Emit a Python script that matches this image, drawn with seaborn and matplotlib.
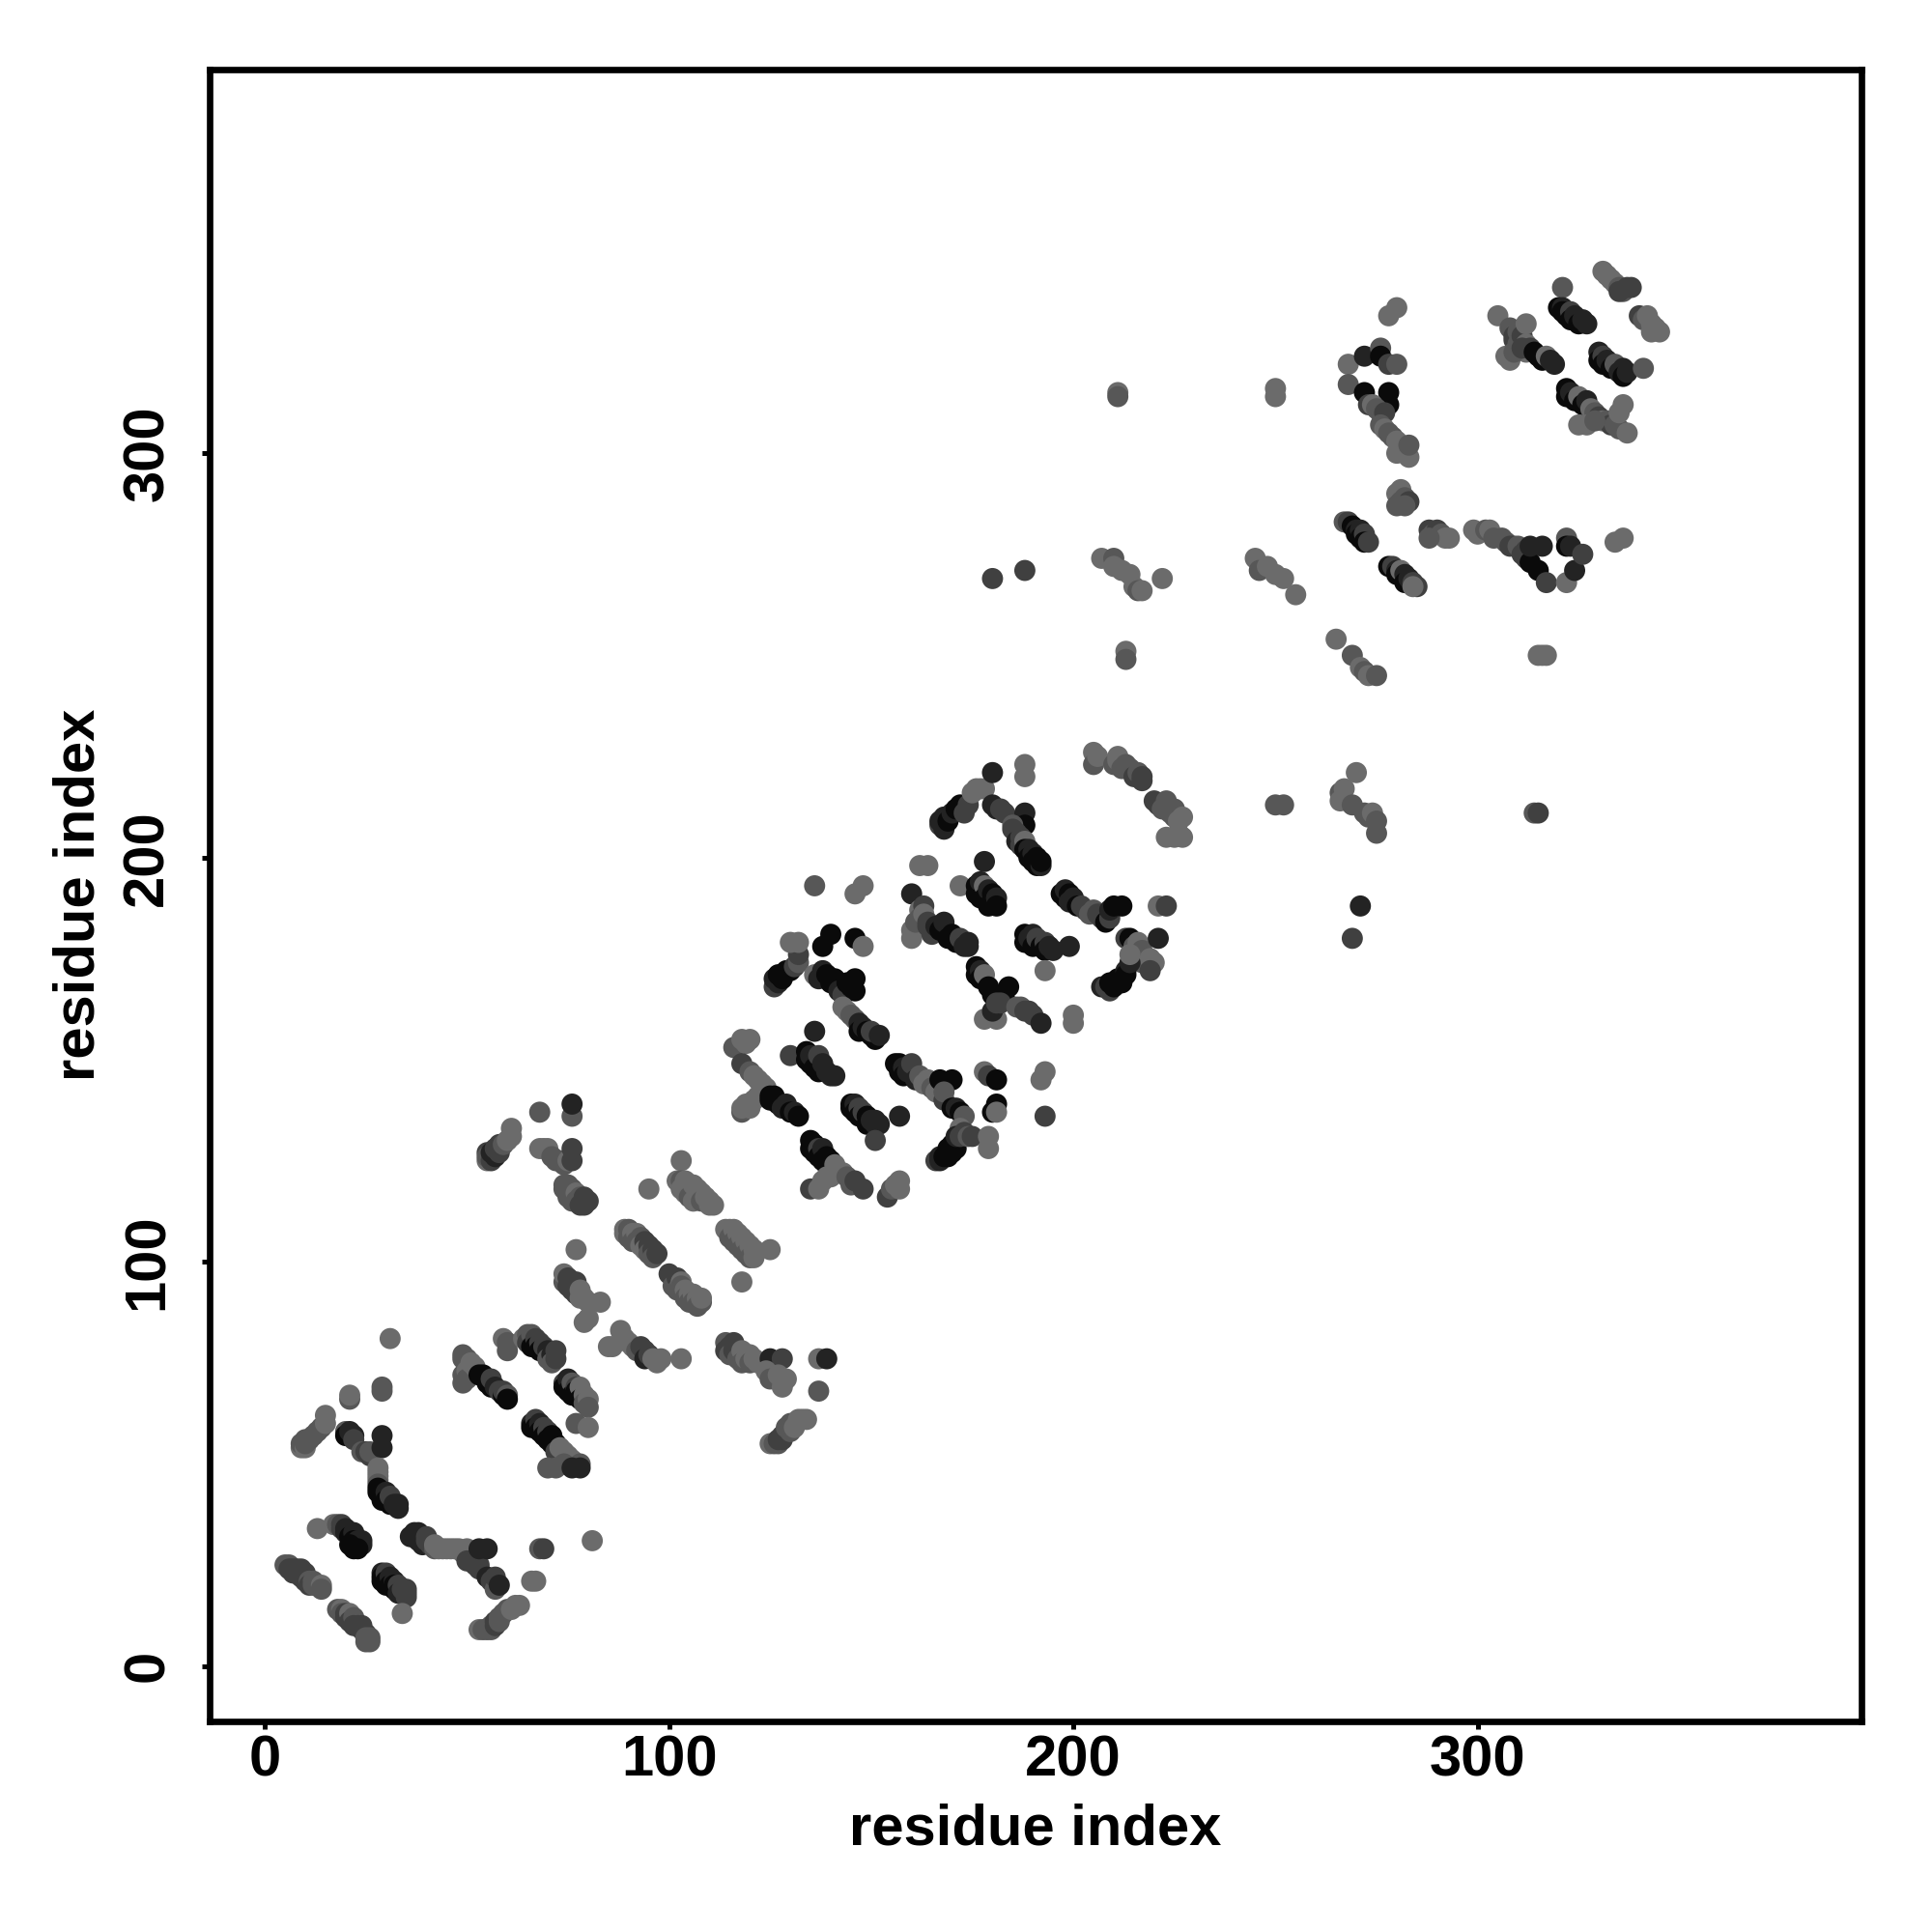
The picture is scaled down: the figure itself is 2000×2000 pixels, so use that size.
# -*- coding: utf-8 -*-
import matplotlib
matplotlib.use('Agg')
import matplotlib.pyplot as plt
import pandas as pd
import seaborn as sns

# shades of grey, dark to light
K, D, M, G, L = 0.04, 0.14, 0.25, 0.34, 0.42

TICKS = [0, 100, 200, 300]

# (residue i, residue j, shade), one cluster at a time
low_left = [(5,25,G),(6,25,G),(6,24,M),(7,24,M),(7,23,M),(8,24,M),(9,24,M),(9,22,M),(10,23,M),(10,21,M),(11,21,G),(11,20,M),(12,21,G),(12,20,G),(13,20,G),(14,20,L),(14,19,G),
            (18,14,G),(19,14,L),(19,13,G),(20,13,M),(20,12,M),(21,13,L),(21,11,M),(22,12,G),(22,10,M),(23,10,M),(24,9,M),(24,10,M),(25,8,M),(25,7,G),(26,6,G),(26,7,G),(25,6,G),
            (13,34,L),(17,35,L),(18,35,G),(19,34,M),(19,35,M),(20,34,D),(20,33,D),(21,33,D),(21,32,K),(22,33,D),(22,31,K),(23,31,D),(23,30,K),(24,31,D),(24,30,D),(21,30,K),(22,29,K),(23,29,K),
            (29,23,D),(29,22,K),(29,21,K),(30,23,M),(30,21,K),(30,20,K),(31,22,D),(31,20,K),(32,21,D),(32,20,K),(32,19,K),(33,20,M),(33,18,D),(34,19,M),(35,19,M),(35,18,M),(35,17,M),(34,13,L)]
left_arc = [(9,54,L),(9,55,G),(10,54,L),(10,55,G),(10,56,G),(11,56,G),(12,57,G),(13,58,G),(14,59,G),(15,60,L),(15,62,L),(21,66,G),(21,67,L),(29,68,G),(29,69,G),(31,81,L),
            (20,58,G),(20,57,K),(21,58,D),(22,57,D),(22,56,M),(24,53,G),(25,53,M),(26,52,M),(26,53,G),(29,57,D),(29,54,D),(28,49,L),(28,48,L),(28,47,L),(28,46,L),(28,45,G),(28,44,K),(28,43,K),(29,42,K),(29,41,K),(30,43,D),(30,41,K),(31,40,K),(31,42,M),(32,40,D),(33,39,D),(33,40,D)]
low_band = [(36,32,D),(37,33,D),(38,33,D),(38,31,D),(39,32,D),(39,30,D),(40,32,M),(40,31,M),(41,30,M),(42,29,G),(42,30,L),(43,29,L),(44,29,L),(45,29,L),(46,29,L),(47,29,L),(48,29,L),(49,28,L),(50,29,L),
            (50,26,M),(51,26,M),(52,25,M),(53,25,M),(53,24,M),(53,29,D),(55,29,D),(55,22,D),(56,21,M),(57,19,G),(57,22,M),(58,20,D),(68,29,G),(69,29,M),(66,21,L),(67,21,L),(81,31,L),
            (53,9,L),(54,9,G),(55,9,G),(56,9,G),(56,10,G),(57,10,M),(57,11,M),(58,11,G),(58,12,G),(59,13,G),(60,14,G),(61,14,L),(62,15,L),(63,15,L)]
band_50_75 = [(49,77,G),(49,76,G),(49,72,G),(49,70,G),(50,76,G),(50,73,L),(50,71,G),(51,75,L),(52,74,L),(53,72,K),(54,72,K),(55,71,K),(55,70,K),(56,69,K),(56,71,M),(57,69,D),(58,68,M),(59,67,K),(59,68,M),(60,67,G),(60,66,K),(59,81,L),(60,80,G),(60,78,G),
              (64,81,L),(65,82,G),(65,80,M),(66,82,G),(66,79,K),(67,81,M),(67,79,K),(68,80,M),(68,78,K),(69,79,M),(70,78,D),(70,76,G),(71,77,D),(71,75,G),(72,76,M),(72,78,M),
              (66,60,D),(66,59,K),(67,61,M),(67,59,K),(68,60,D),(68,58,K),(69,59,M),(69,57,K),(70,58,M),(70,56,K),(71,57,K),(71,55,K),(72,55,K),(72,53,M),(73,54,L),(74,53,L),(75,52,L),(76,51,L),(77,50,L),(78,50,G),(70,49,G),(72,49,G),(74,50,G),(76,49,D),(78,49,D),
              (74,70,M),(74,69,K),(75,71,D),(75,68,K),(76,70,G),(76,67,K),(77,69,M),(77,68,K),(78,69,L),(78,66,K),(79,67,L),(79,65,G),(80,66,L),(80,64,G),(77,60,G),(80,59,L)]
band_75_110 = [(74,95,G),(74,97,L),(75,94,M),(75,96,M),(76,93,M),(76,94,M),(77,95,M),(77,92,M),(78,93,L),(78,91,L),(79,91,L),(80,90,L),(83,90,L),(77,103,L),(79,85,L),(80,86,L),
               (55,125,L),(55,127,M),(55,126,G),(56,125,M),(56,127,D),(57,126,D),(57,128,M),(58,127,M),(58,129,M),(59,129,G),(60,130,L),(61,131,L),(61,133,L),(68,137,G),(76,136,G),(76,139,D),
               (68,128,L),(69,128,L),(70,128,L),(71,126,G),(72,125,G),(73,125,G),(74,124,G),(75,125,L),(76,128,M),(76,125,M),
               (74,119,G),(74,118,G),(75,119,G),(75,116,G),(76,118,G),(76,115,G),(77,117,L),(77,115,G),(78,116,G),(78,114,M),(79,116,M),(79,114,M),(80,115,M),
               (85,79,L),(86,79,L),(88,83,L),(89,81,L),(90,80,L),(91,79,L),(92,78,G),(93,79,M),(94,78,M),(94,76,D),(95,77,M),(96,76,L),(97,75,L),(98,76,L),(103,76,L),
               (89,108,L),(89,107,L),(90,108,G),(90,106,G),(91,107,L),(91,105,G),(92,107,L),(92,105,G),(93,106,G),(93,104,L),(94,105,M),(94,103,L),(95,104,M),(95,102,G),(96,103,M),(96,101,G),(97,102,M),(95,118,L),
               (100,97,M),(101,96,M),(101,94,G),(102,96,M),(102,93,G),(103,95,L),(103,94,G),(104,93,L),(104,91,G),(105,92,L),(105,90,G),(106,92,L),(106,90,G),(107,91,L),(107,89,G),(108,90,G),(108,91,L),(103,125,L),
               (102,120,L),(103,120,G),(103,118,L),(104,120,L),(104,117,L),(105,119,L),(105,116,G),(106,119,L),(106,115,L),(107,118,L),(107,116,L),(108,117,L),(108,115,G),(109,116,L),(110,115,L),(110,114,L),(111,114,L),
               (114,108,L),(115,108,L),(115,106,G),(116,108,L),(116,105,G),(117,107,L),(117,104,G),(118,106,L),(118,103,G),(119,105,L),(119,102,G),(120,104,L),(120,101,G),(121,103,L),(121,101,L),(125,103,L),(118,95,L)]
band_right_low = [(114,80,G),(114,78,M),(115,79,M),(115,77,G),(116,80,M),(116,78,M),(117,76,G),(118,78,L),(118,75,G),(119,76,L),(120,77,L),(120,75,G),(121,76,L),(122,75,L),(125,76,D),(128,76,M),
                  (124,73,L),(125,71,G),(127,72,L),(128,69,L),(129,71,L),(137,68,G),(137,76,L),(139,76,D),
                  (125,55,L),(126,55,G),(127,55,G),(127,56,M),(128,56,M),(128,57,M),(129,58,M),(129,59,G),(130,58,G),(130,60,G),(131,59,L),(132,61,L),(133,61,L),(134,61,L)]
middle = [(116,153,G),(118,155,L),(119,154,L),(120,155,L),(118,149,M),(120,147,G),(121,146,L),(122,145,L),(123,144,L),(124,143,L),(118,137,G),(118,138,L),(119,139,L),(120,138,L),(121,140,L),(122,141,L),(125,141,K),(125,140,K),(126,141,K),(127,139,K),(128,138,D),(129,139,D),(130,137,K),(131,137,D),(132,136,K),(130,151,M),
          (136,157,D),(134,150,K),(134,152,K),(135,149,K),(135,151,D),(136,150,D),(136,148,K),(137,151,M),(137,147,K),(138,149,D),(139,147,D),(140,146,D),(141,146,D),
          (145,139,K),(145,138,K),(146,139,D),(146,137,K),(147,138,M),(147,136,K),(148,137,M),(149,136,K),(149,134,K),(150,135,D),(151,134,D),(151,135,D),(152,134,D),(157,136,D),(151,130,M),
          (135,130,K),(135,128,K),(136,129,K),(136,127,K),(137,128,M),(137,126,K),(138,128,D),(138,125,K),(139,126,K),(139,124,K),(140,125,K),(135,118,M),(137,118,L),(138,120,L),(139,121,L),(140,121,L),(141,124,L),(142,122,L),(143,122,L),(144,121,G),(145,119,G),(146,120,M),(148,118,M),
          (154,116,M),(155,118,G),(156,119,L),(157,120,L),(157,118,L),
          (156,149,K),(157,149,K),(157,147,K),(158,148,D),(158,146,K),(159,147,D),(160,149,M),(161,145,D),(162,146,G),(163,144,L),(164,145,L),(165,143,G),(166,142,L),(167,145,K),(170,145,K),
          (168,140,M),(168,142,G),(170,138,K),(171,138,D),(172,137,K),(173,136,G),(172,133,L),
          (166,125,M),(167,125,D),(167,126,D),(168,126,K),(169,126,K),(169,128,K),(170,127,K),(170,129,K),(171,128,K),(171,131,D),(172,131,M),(173,132,M),(174,131,G),(175,131,M),(179,131,L),(179,128,L),
          (178,147,L),(179,146,M),(181,145,K),(180,137,K),(181,139,K),(181,137,L),(193,147,L),(192,145,L),(193,136,M)]
upper_mid = [(126,168,M),(126,170,D),(127,169,D),(127,171,K),(128,170,K),(129,172,K),(130,172,K),(131,173,M),(132,174,G),(132,176,M),(130,179,L),(132,179,L),(136,193,G),(136,171,L),(137,170,D),(138,172,D),(139,171,K),(140,169,K),(141,170,K),(142,167,D),(143,166,M),(144,169,K),(145,168,K),
             (140,181,K),(138,178,K),(146,191,L),(148,193,L),(146,180,K),(148,178,L),(146,170,K),(146,167,K),
             (143,163,L),(144,162,L),(145,161,G),(146,160,G),(147,159,D),(147,157,K),(148,158,D),(149,157,K),(150,156,K),(151,155,K),(150,157,M),(152,156,D),
             (162,198,L),(164,198,L),(160,191,D),(160,180,L),(160,182,L),(161,184,G),(162,187,L),(162,185,G),(163,188,M),(163,186,L),(164,183,M),(164,184,M),(165,181,M),(166,183,D),(167,182,K),(168,184,D),(169,180,K),(170,181,K),(171,179,K),(172,180,M),(173,178,D),(174,179,D),(174,178,D),(172,193,L),
             (176,193,K),(176,191,K),(177,194,D),(177,190,K),(178,193,L),(178,190,K),(179,192,D),(179,188,K),(180,191,K),(181,190,D),(181,188,K),(178,199,D),
             (176,173,K),(176,171,K),(177,172,D),(177,170,K),(178,171,L),(179,168,K),(180,166,K),(184,168,K),(183,165,K),(178,160,L),(181,160,L),(180,162,D),(181,164,M),(182,164,M),(186,163,G),(187,163,G),(188,162,M),(189,162,M),(190,161,M),(192,159,D),(200,161,L),(200,159,L),
             (188,181,K),(188,179,K),(189,180,D),(190,181,D),(190,178,K),(191,180,M),(192,178,K),(193,179,M),(193,177,K),(194,178,D),(195,177,D),(199,178,D),(193,172,L)]
arc_200 = [(167,208,M),(167,209,D),(168,210,D),(168,207,D),(169,209,K),(170,211,D),(171,212,K),(172,213,K),(173,211,M),(174,213,M),(175,216,L),(176,217,L),(177,217,L),(178,217,L),(180,221,D),(180,213,D),(181,212,D),(182,212,M),(183,211,M),(188,223,L),(188,220,L),(188,211,D),(188,208,K),
           (185,208,G),(185,207,M),(186,206,M),(186,204,D),(187,205,M),(187,203,M),(188,204,L),(188,202,K),(189,202,D),(189,200,K),(190,201,D),(190,199,K),(191,200,K),(191,198,K),(192,198,D),(192,199,K),
           (197,191,K),(198,190,K),(198,192,D),(199,191,K),(199,189,D),(200,190,D),(201,188,K),(202,188,M),(203,187,M),(204,186,G),(205,187,G),(206,186,M),(207,185,M),(208,184,K),(209,185,M),(209,187,D),(210,188,K),(212,188,K),
           (213,180,M),(214,180,K),(215,178,G),(216,179,L),(217,177,G),(217,174,G),(219,175,L),(220,174,L),(219,172,M),(221,188,L),(223,188,M),(221,180,D),
           (207,168,D),(208,168,M),(209,167,M),(209,169,K),(210,168,K),(211,170,K),(212,169,K),(213,172,D),(213,171,K),(214,174,D),(214,176,L),
           (205,226,L),(205,223,G),(206,225,L),(210,223,G),(211,224,L),(211,225,L),(212,222,G),(213,223,G),(214,222,G),(215,220,M),(216,221,G),(217,220,M),(217,219,M),
           (220,214,M),(221,213,M),(222,212,G),(223,214,G),(224,211,G),(225,210,G),(225,212,G),(226,209,L),(227,210,L),(223,205,L),(225,205,L),(227,205,L),(226,206,L)]
sparse = [(211,315,L),(211,314,G),(250,316,L),(250,314,L),(180,269,M),(188,271,M),(207,274,L),(210,274,G),(210,272,L),(212,271,L),(214,270,L),(215,267,L),(216,266,G),(217,266,L),(222,269,L),(213,251,L),(213,249,G),
          (245,274,L),(246,271,G),(248,272,L),(250,270,L),(252,269,L),(255,265,L),(250,213,G),(252,213,G),(265,254,L),(269,250,G),(271,247,L),(272,246,G),(273,245,L),(275,245,G),
          (266,216,G),(266,214,L),(267,217,L),(269,213,G),(270,221,L),(272,211,G),(273,210,G),(274,211,L),(275,209,G),(275,206,G),(271,188,D),(269,180,M),(314,211,G),(315,211,M),(315,250,L),(316,250,L),(317,250,L)]
upper_left = [(268,322,L),(272,324,D),(276,326,G),(276,324,K),(278,322,M),(280,322,G),(278,334,L),(280,336,L),(268,317,G),(272,315,K),(278,315,K),(278,312,K),(273,312,M),(274,312,L),(275,311,G),(276,310,G),(277,310,M),
              (276,307,G),(277,306,L),(278,305,G),(279,304,G),(280,303,L),(281,302,L),(282,301,L),(282,300,L),(283,299,L),(280,300,L),(283,302,G),
              (280,290,L),(281,291,L),(281,288,G),(282,289,G),(283,288,M),(282,287,G),(280,287,G),
              (267,283,G),(268,283,M),(269,282,K),(270,281,D),(270,280,K),(271,281,D),(271,279,K),(272,280,M),(272,278,K),(273,278,M),
              (288,281,M),(289,280,G),(290,281,M),(291,280,G),(292,279,L),(293,279,L),(288,279,G),
              (278,272,K),(279,272,M),(280,271,D),(280,270,K),(281,271,L),(282,270,D),(282,268,K),(283,269,D),(284,268,M),(285,267,M),(284,267,L)]
upper_band = [(299,281,L),(300,280,L),(302,281,G),(303,281,L),(304,279,G),(306,279,G),(307,278,G),(308,277,M),(309,277,M),(310,277,G),(311,275,M),(312,276,M),(312,274,M),(313,273,K),(313,277,D),(316,277,D),(315,271,K),(317,268,M),(322,268,L),(322,279,G),(322,277,K),(323,277,D),(324,271,D),(326,275,M),(334,278,L),(336,279,L),
              (305,334,L),(308,331,G),(309,329,M),(309,328,M),(310,330,G),(310,327,G),(311,329,M),(312,327,L),(312,325,L),(312,332,L),(307,324,L),(308,323,L),(309,325,G),(311,326,M),(313,326,M),(314,325,K),(315,324,K),(316,323,K),(317,324,L),(318,323,D),(319,322,D),
              (321,341,G),(320,336,K),(321,336,D),(321,335,K),(322,334,K),(323,335,M),(323,333,K),(324,334,D),(325,332,K),(326,333,D),(327,332,D),
              (331,345,L),(332,344,L),(333,343,L),(334,342,L),(335,341,G),(336,340,G),(337,341,M),(335,340,M),(338,341,M),
              (340,334,M),(341,333,G),(342,334,L),(343,332,L),(344,331,L),(345,330,L),(343,330,L),
              (330,325,D),(330,323,K),(331,324,M),(331,322,K),(332,323,D),(333,321,K),(334,322,G),(335,320,D),(336,321,D),(336,319,K),(337,320,D),(341,321,G),
              (322,316,K),(322,314,K),(323,315,D),(324,313,K),(325,314,L),(326,312,K),(327,313,D),(328,311,L),(329,310,G),(330,309,M),(331,308,L),(332,308,G),(333,307,M),(334,307,G),(335,306,G),(337,305,L),(325,307,L),(327,307,L),(329,308,G),(335,310,L),(336,312,L)]

clusters = [low_left, left_arc, low_band, band_50_75, band_75_110, band_right_low,
            middle, upper_mid, arc_200, sparse, upper_left, upper_band]

rows = [row for cluster in clusters for row in cluster]
df = pd.DataFrame(rows, columns=['i', 'j', 'shade'])

sns.set_theme(style='white')
plt.rcParams['font.family'] = ['Liberation Sans', 'DejaVu Sans']

fig = plt.figure(figsize=(10, 10), dpi=200)
ax = fig.add_axes([0.1084, 0.109, 0.8552, 0.8552])

sns.scatterplot(data=df, x='i', y='j', hue='shade', palette='gray', hue_norm=(0, 1),
                s=62, linewidth=0, legend=False, ax=ax)

ax.set_xlim(-13.7, 395)
ax.set_ylim(-13.7, 395)
ax.set_xticks(TICKS)
ax.set_yticks(TICKS)
ax.tick_params(axis='x', direction='out', length=3, width=1.8, color='black', pad=2,
               bottom=True, labelcolor='black')
ax.tick_params(axis='y', direction='out', length=3, width=1.8, color='black', pad=10,
               left=True, labelcolor='black')
for label in ax.get_xticklabels():
    label.set_fontsize(21.5)
    label.set_fontweight('bold')
for label in ax.get_yticklabels():
    label.set_fontsize(21.5)
    label.set_fontweight('bold')
    label.set_rotation(90)
    label.set_va('center')
ax.set_xlabel('residue index', fontsize=21.5, fontweight='bold', color='black', labelpad=5.5)
ax.set_ylabel('residue index', fontsize=21.5, fontweight='bold', color='black', labelpad=6)
for spine in ax.spines.values():
    spine.set_linewidth(2.4)
    spine.set_color('black')

plt.savefig('out.png')
